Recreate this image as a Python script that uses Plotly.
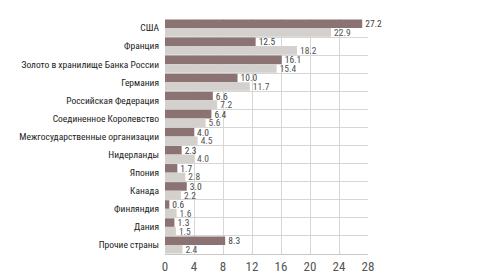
import plotly.graph_objects as go

categories = ["США", "Франция", "Золото в хранилище Банка России", "Германия",
              "Российская Федерация", "Соединенное Королевство",
              "Межгосударственные организации", "Нидерланды", "Япония",
              "Канада", "Финляндия", "Дания", "Прочие страны"]
series_dark = [27.2, 12.5, 16.1, 10.0, 6.6, 6.4, 4.0, 2.3, 1.7, 3.0, 0.6, 1.3, 8.3]
series_light = [22.9, 18.2, 15.4, 11.7, 7.2, 5.6, 4.5, 4.0, 2.8, 2.2, 1.6, 1.5, 2.4]
x_ticks = [0, 4, 8, 12, 16, 20, 24, 28]

FONT = "Roboto Condensed, DejaVu Sans Condensed, sans-serif"
pos = list(range(len(categories)))

fig = go.Figure()
fig.add_trace(go.Bar(
    y=pos, x=series_dark, orientation="h", marker_color="#8b7374",
    marker_line_width=0, texttemplate="%{x:.1f}", textposition="outside",
    constraintext="none",
    textfont=dict(size=9.5, color="#444", family=FONT), cliponaxis=False,
))
fig.add_trace(go.Bar(
    y=pos, x=series_light, orientation="h", marker_color="#d3d0cd",
    marker_line_width=0, texttemplate="%{x:.1f}", textposition="outside",
    constraintext="none",
    textfont=dict(size=9.5, color="#555", family=FONT), cliponaxis=False,
))

fig.update_layout(
    width=480, height=277, margin=dict(l=165, r=112, t=19, b=23),
    paper_bgcolor="white", plot_bgcolor="white", showlegend=False,
    barmode="group", bargap=0.05, bargroupgap=0,
    font=dict(family=FONT, color="#333"),
)
fig.update_xaxes(
    range=[0, 28], tickvals=x_ticks, showgrid=True, gridcolor="#d6d6d6",
    gridwidth=1, zeroline=False, showline=True, linecolor="#c8c8c8",
    tickfont=dict(size=13, color="#555", family=FONT), ticks="", ticklen=0,
    automargin=False,
)
fig.update_yaxes(
    range=[12.5, -0.5], tickvals=pos, ticktext=categories, showgrid=False,
    zeroline=False, ticks="", ticklabelstandoff=5, automargin=False,
    tickfont=dict(size=9.5, color="#222", family=FONT),
    minor=dict(tickvals=[i + 0.5 for i in pos[:-1]], showgrid=True,
               gridcolor="#d6d6d6", gridwidth=1, ticks=""),
)

fig.write_html("out.html")
